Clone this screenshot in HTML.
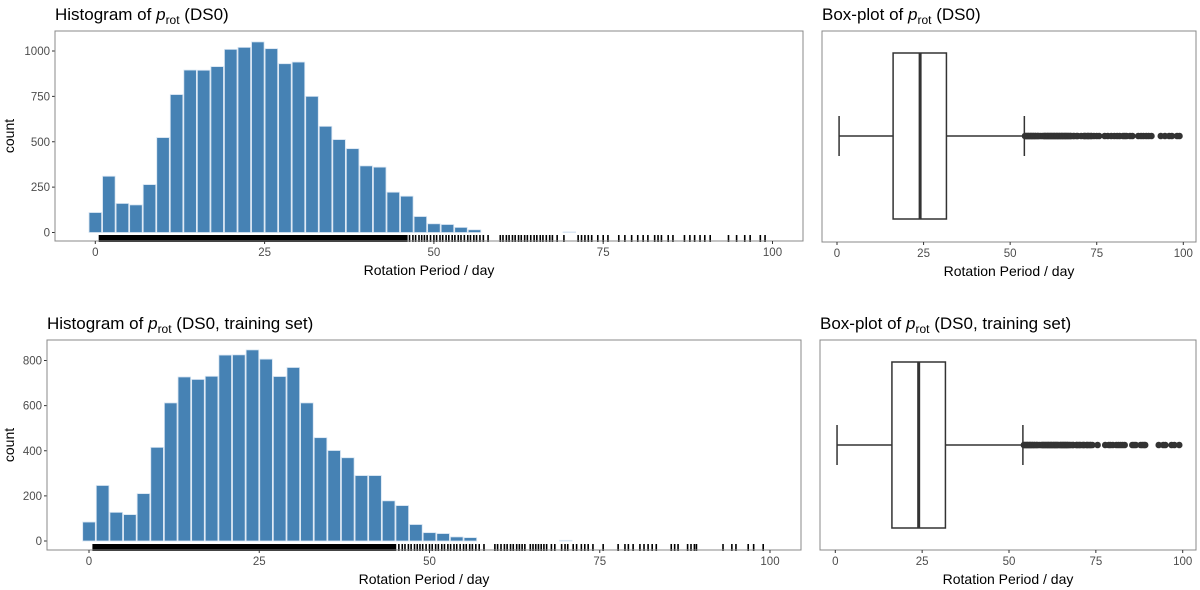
<!DOCTYPE html>
<html><head><meta charset="utf-8">
<style>
html,body{margin:0;padding:0;background:#fff;}
svg{display:block;font-family:"Liberation Sans",Arial,sans-serif;}
</style></head>
<body>
<svg id="chart" width="1200" height="590" viewBox="0 0 1200 590"></svg>
<script>
// ---- data ----
const binCenters = [0,2,4,6,8,10,12,14,16,18,20,22,24,26,28,30,32,34,36,38,40,42,44,46,48,50,52,54,56,70];
const countsAll = [110,310,160,152,264,523,760,895,894,914,1009,1020,1050,1013,930,939,750,585,512,462,367,360,222,200,88,48,44,28,15,3];
const countsTrain = [84,246,127,117,210,415,612,727,716,730,824,825,847,806,729,769,612,458,401,369,290,290,178,157,73,37,33,18,15,3];
const yTicksAll = [0,250,500,750,1000];
const yTicksTrain = [0,200,400,600,800];
const xTicks = [0,25,50,75,100];
const rugDenseAll = [0.5, 46];
const rugDenseTrain = [0.5, 45];
const rugAll = [45.5,46,46.4,46.9,47.3,47.8,48.2,48.6,49,49.5,50,50.4,50.9,51.3,51.8,52.2,52.7,53.1,53.6,54,54.5,55,55.4,55.9,56.3,56.8,57.3,58,59.8,60.2,60.7,61.1,61.6,62,62.5,62.9,63.4,63.8,64.3,64.8,65.2,65.7,66.1,66.6,67.1,67.5,68.2,69.2,71.3,71.8,72.3,72.8,73.3,74.2,75.0,75.7,77.3,78.2,79.2,80.1,80.9,81.6,82.6,83.1,83.6,84.6,85.3,87.0,87.8,88.5,89.3,90.0,90.8,93.5,94.7,95.9,96.7,98.2,98.9];
const rugTrain = [44.5,45,45.5,46,46.4,46.9,47.3,47.8,48.2,48.6,49,49.5,50,50.4,50.9,51.3,51.8,52.2,52.7,53.1,53.6,54,54.5,55,55.4,55.9,56.3,56.8,57.3,58,59.6,60,60.5,61,61.4,61.9,62.3,62.8,63.2,63.6,64,64.8,65.2,65.6,66,66.4,66.8,67.2,67.9,68.4,69.4,69.9,70.3,71.1,71.6,72.3,72.8,73.3,74.0,75.5,77.7,78.7,79.2,79.9,80.9,81.5,82.1,82.7,83.3,85.5,86.0,86.5,87.9,88.4,88.9,89.2,93.1,94.4,95.0,96.8,97.6,99.0];
const boxAll = {lo:0.6,q1:16.2,med:24.0,q3:31.6,hi:54.1};
const boxTrain = {lo:0.5,q1:16.3,med:24.0,q3:31.7,hi:54.0};
const outDense = [54.3,54.8,55.3,55.8,56.3,56.8,57.3,57.8,58.3,58.8,59.3,59.8,60.3,60.8,61.3,61.8,62.3,62.8,63.3,63.8,64.3,64.8,65.3,65.8,66.3,66.8,67.5,68.5,69.5,70.5,71.5,72.5,73.5];

const NS='http://www.w3.org/2000/svg';
const svg=document.getElementById('chart');
function el(tag,attrs,parent,text){const e=document.createElementNS(NS,tag);for(const k in attrs)e.setAttribute(k,attrs[k]);if(text!==undefined)e.textContent=text;(parent||svg).appendChild(e);return e;}
function lin(d0,d1,r0,r1){return v=>r0+(v-d0)*(r1-r0)/(d1-d0);}

function title(x,y,extra,name){
  const t=el('text',{x:x,y:y,'font-size':17,fill:'#000'});
  
  
  el('tspan',{},t,'Histogram of ');
  el('tspan',{'font-style':'italic'},t,'p');
  el('tspan',{'font-size':12,dy:4},t,'rot');
  el('tspan',{dy:-4},t,' ('+extra+')');
  return t;
}
function titleText(t,prefix){t.firstChild.textContent=prefix;}

function xAxis(g,x,yb){
  xTicks.forEach(v=>{
    const l=el('line',{x1:x(v),x2:x(v),y1:yb,y2:yb+3,stroke:'#333','stroke-width':1},g);
    
    
    const t=el('text',{x:x(v),y:yb+15,'font-size':11.5,fill:'#4d4d4d','text-anchor':'middle'},g,String(v));
    
    
  });
}

function histogram(px0,px1,py0,py1,x,y,counts,yTicks,rugDense,rug,extra,ty,tag){
  const g=el('g',{});
  
  
  title(px0,ty,extra,'histogram-title-'+tag);
  yTicks.forEach(v=>{
    const l=el('line',{x1:px0-3,x2:px0,y1:y(v),y2:y(v),stroke:'#333'},g);
    
    
    const tl=el('text',{x:px0-5,y:y(v)+4,'font-size':11.5,fill:'#4d4d4d','text-anchor':'end'},g,String(v));
    
    
  });
  binCenters.forEach((c,i)=>{
    const r=el('rect',{x:x(c-1)+0.5,y:y(counts[i]),width:x(c+1)-x(c-1)-1,height:y(0)-y(counts[i]),fill:'#4682b4',stroke:'#d6e4f2','stroke-width':0.8},g);
    
    
  });
  const rd=el('rect',{x:x(rugDense[0]),y:py1-6,width:x(rugDense[1])-x(rugDense[0]),height:7,fill:'#000'},g);
  
  
  rug.forEach(v=>{
    const l=el('line',{x1:x(v),x2:x(v),y1:py1-6,y2:py1+1,stroke:'#000','stroke-width':1.6},g);
    
    
  });
  const f=el('rect',{x:px0,y:py0,width:px1-px0,height:py1-py0,fill:'none',stroke:'#888','stroke-width':1},g);
  
  
  xAxis(g,x,py1);
  const xt=el('text',{x:(px0+px1)/2,y:py1+34,'font-size':14,fill:'#000','text-anchor':'middle'},g,'Rotation Period / day');
  
  
  const yt=el('text',{x:0,y:0,'font-size':14,fill:'#000','text-anchor':'middle',transform:'translate(14,'+((py0+py1)/2)+') rotate(-90)'},g,'count');
  
  
}

function boxplot(px0,px1,py0,py1,x,b,top,bot,rug,ty,extra,tag){
  const g=el('g',{});
  
  
  const t=title(px0,ty,extra,'boxplot-title-'+tag);
  titleText(t,'Box-plot of ');
  const cy=(top+bot)/2, cap=20;
  const st={stroke:'#333','stroke-width':1.5,fill:'none'};
  const w1=el('line',Object.assign({x1:x(b.lo),x2:x(b.q1),y1:cy,y2:cy},st),g);
  
  
  const w2=el('line',Object.assign({x1:x(b.q3),x2:x(b.hi),y1:cy,y2:cy},st),g);
  
  
  const c1=el('line',Object.assign({x1:x(b.lo),x2:x(b.lo),y1:cy-cap,y2:cy+cap},st),g);
  
  
  const c2=el('line',Object.assign({x1:x(b.hi),x2:x(b.hi),y1:cy-cap,y2:cy+cap},st),g);
  
  
  const bx=el('rect',Object.assign({x:x(b.q1),y:top,width:x(b.q3)-x(b.q1),height:bot-top},st),g);
  
  
  const md=el('line',{x1:x(b.med),x2:x(b.med),y1:top,y2:bot,stroke:'#333','stroke-width':3},g);
  
  
  outDense.concat(rug.filter(v=>v>b.hi)).forEach(v=>{
    const c=el('circle',{cx:x(v),cy:cy,r:3.3,fill:'#333'},g);
    
    
  });
  const f=el('rect',{x:px0,y:py0,width:px1-px0,height:py1-py0,fill:'none',stroke:'#888','stroke-width':1},g);
  
  
  xAxis(g,x,py1);
  const xt=el('text',{x:(px0+px1)/2,y:py1+34,'font-size':14,fill:'#000','text-anchor':'middle'},g,'Rotation Period / day');
  
  
}

histogram(55,803,31,241,lin(0,100,95.3,772.5),lin(0,1000,232.5,51),countsAll,yTicksAll,rugDenseAll,rugAll,'DS0',20,'ds0');
histogram(47,801,340,550,lin(0,100,89,770),lin(0,800,541,360.5),countsTrain,yTicksTrain,rugDenseTrain,rugTrain,'DS0, training set',329,'train');
boxplot(822,1196,31,242,lin(0,100,837,1183.3),boxAll,53,219,rugAll,20,'DS0','ds0');
boxplot(820,1196,340,550,lin(0,100,835.3,1182.7),boxTrain,362,528,rugTrain,329,'DS0, training set','train');
</script>
</body></html>
